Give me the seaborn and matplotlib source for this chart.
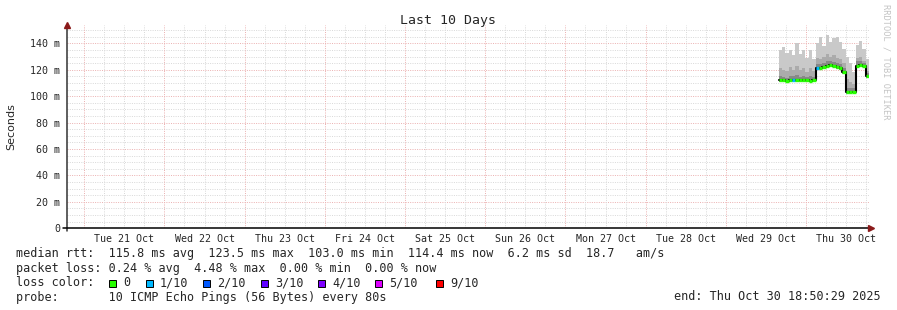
import numpy as np
import pandas as pd
import matplotlib
matplotlib.use("Agg")
import matplotlib.pyplot as plt
import matplotlib.dates as mdates
from matplotlib.patches import Rectangle
import seaborn as sns

# ---------------- data ----------------
range_start = "2025-10-20 18:50:29"
range_end = "2025-10-30 18:50:29"
data_start = "2025-10-29 15:50"

median_ms = [112.3, 112.0, 111.8, 112.2, 112.0, 112.4, 111.9, 112.0, 112.1, 111.8, 112.0,
             121.0, 121.5, 122.0, 123.0, 123.4, 123.0, 122.0, 121.0, 118.0,
             103.0, 103.0, 103.5, 123.0, 123.5, 123.0, 115.0]
loss_idx = [0, 0, 0, 0, 1, 0, 0, 0, 0, 0, 0,
            1, 0, 0, 0, 0, 0, 0, 0, 0,
            0, 0, 0, 0, 0, 0, 0]
max_ms = [135, 137, 133, 135, 131, 140, 132, 135, 129, 135, 128,
          140, 145, 138, 146, 141, 144, 145, 141, 136,
          130, 125, 118, 139, 142, 136, 128]
p80_ms = [121, 120, 119, 122, 120, 123, 120, 121, 118, 121, 119,
          129, 128, 130, 132, 130, 131, 129, 128, 125,
          113, 111, 109, 129, 130, 127, 119]
p60_ms = [115, 114.5, 114, 115.5, 115, 116, 114.5, 115, 114.5, 115, 114.5,
          124.5, 124.5, 125.5, 126.5, 126.5, 126, 125, 124, 121.5,
          106.5, 106, 106, 126.5, 126.5, 125.5, 117.5]
min_ms = [110.8, 110.6, 110.5, 110.8, 110.7, 111.0, 110.6, 110.7, 110.8, 110.5, 110.7,
          119.8, 120.2, 120.8, 121.8, 122.2, 121.8, 120.8, 119.8, 116.8,
          101.8, 101.8, 102.3, 121.8, 122.3, 121.8, 113.8]

loss_colors = ["#26ff00", "#00b8ff", "#0059ff", "#5e00ff", "#7e00ff", "#dd00ff", "#ff0000"]
loss_labels = ["0", "1/10", "2/10", "3/10", "4/10", "5/10", "9/10"]
yticks_ms = [0, 20, 40, 60, 80, 100, 120, 140]
ytick_labels = ["0", "20 m", "40 m", "60 m", "80 m", "100 m", "120 m", "140 m"]

stat_lines = [
    "median rtt:  115.8 ms avg  123.5 ms max  103.0 ms min  114.4 ms now  6.2 ms sd  18.7   am/s",
    "packet loss: 0.24 % avg  4.48 % max  0.00 % min  0.00 % now",
    "loss color:",
    "probe:       10 ICMP Echo Pings (56 Bytes) every 80s",
]
end_text = "end: Thu Oct 30 18:50:29 2025"

# ---------------- figure ----------------
sns.set_style("white")
plt.rcParams["font.family"] = ["DejaVu Sans Mono", "DejaVu Sans"]

W, H = 897, 310
fig = plt.figure(figsize=(W / 100, H / 100), dpi=100)
fig.patch.set_facecolor("white")
ax = fig.add_axes([67 / W, (H - 228.3) / H, 802 / W, 203.3 / H])
ax.set_facecolor("white")

t0 = pd.Timestamp(range_start)
t1 = pd.Timestamp(range_end)
ax.set_xlim(mdates.date2num(t0), mdates.date2num(t1))
ax.set_ylim(0, 153.9)

# grid
minor_c = "#dadada"
major_c = "#ecb4b4"
dash = (0, (1.0, 1.3))
for v in np.arange(5, 154, 5):
    is_major = (v % 20 == 0)
    ax.axhline(v, color=major_c if is_major else minor_c, lw=0.72, ls=dash, zorder=0)
gt = pd.date_range("2025-10-21 00:00", "2025-10-30 18:00", freq="6h")
for g in gt:
    ax.axvline(mdates.date2num(g), color=major_c if g.hour == 0 else minor_c, lw=0.72, ls=dash, zorder=0)

# smoke
times = pd.date_range(data_start, periods=len(median_ms), freq="h")
tx = mdates.date2num(list(times) + [times[-1] + pd.Timedelta(hours=1)])

def ext(a):
    return list(a) + [a[-1]]

ax.fill_between(tx, ext(min_ms), ext(max_ms), step="post", color="#c9c9c9", lw=0, zorder=2)
ax.fill_between(tx, ext(min_ms), ext(p80_ms), step="post", color="#ababab", lw=0, zorder=3)
ax.fill_between(tx, ext(min_ms), ext(p60_ms), step="post", color="#888888", lw=0, zorder=4)

# median: black step line + loss coloured segments
df = pd.DataFrame({"t": tx, "median": ext(median_ms)})
sns.lineplot(data=df, x="t", y="median", drawstyle="steps-post", color="black", lw=1.5, ax=ax, zorder=5)
ax.hlines(median_ms, tx[:-1], tx[1:], colors=[loss_colors[i] for i in loss_idx], lw=2.4, zorder=6)

ax.set_xlabel("")
ax.set_ylabel("")

# axes cosmetics
for s in ["top", "right", "left", "bottom"]:
    ax.spines[s].set_visible(False)
ax.plot([0, 0], [-0.015, 1.0], transform=ax.transAxes, color="#333333", lw=1.1, clip_on=False, zorder=7)
ax.plot([-0.005, 1.0], [0, 0], transform=ax.transAxes, color="black", lw=1.1, clip_on=False, zorder=7)
ax.plot([0], [1.0], marker="^", color="#8b1a1a", ms=4.5, transform=ax.transAxes, clip_on=False, zorder=8)
ax.plot([1.003], [0], marker=">", color="#8b1a1a", ms=4.5, transform=ax.transAxes, clip_on=False, zorder=8)

ax.set_yticks(yticks_ms)
ax.set_yticklabels(ytick_labels, fontsize=7.2, family="DejaVu Sans Mono")
ax.tick_params(axis="y", length=0, pad=5)

days = pd.date_range("2025-10-21 12:00", "2025-10-30 12:00", freq="D")
ax.set_xticks(mdates.date2num(days))
ax.set_xticklabels([d.strftime("%a %d %b") for d in days], fontsize=7.2, family="DejaVu Sans Mono")
ax.tick_params(axis="x", length=0, pad=4)

# title / labels
fig.text(448 / W, 1 - 24 / H, "Last 10 Days", ha="center", va="baseline", fontsize=9.5,
         family="DejaVu Sans Mono")
fig.text(11 / W, 1 - 127 / H, "Seconds", rotation=90, ha="center", va="center", fontsize=8,
         family="DejaVu Sans")
fig.text(886 / W, 1 - 4 / H, "RRDTOOL / TOBI OETIKER", rotation=270, ha="center", va="top",
         fontsize=6.2, color="#c4c4c4", family="DejaVu Sans Mono")

# legend text
baselines = [257.5, 271.8, 286.2, 300.5]
for s, b in zip(stat_lines, baselines):
    fig.text(16 / W, 1 - b / H, s, ha="left", va="baseline", fontsize=8.5, family="DejaVu Sans Mono")
fig.text(881 / W, 1 - baselines[3] / H, end_text, ha="right", va="baseline", fontsize=8.5,
         family="DejaVu Sans Mono")

box_x = [109, 146, 203, 261, 318, 375, 436]
for bx, c, lab in zip(box_x, loss_colors, loss_labels):
    fig.add_artist(Rectangle((bx / W, 1 - 286.7 / H), 7 / W, 7 / H, transform=fig.transFigure,
                             facecolor=c, edgecolor="black", lw=0.7))
    fig.text((bx + 14) / W, 1 - baselines[2] / H, lab, ha="left", va="baseline", fontsize=8.5,
             family="DejaVu Sans Mono")

fig.savefig("out.png", dpi=100, facecolor="white")
